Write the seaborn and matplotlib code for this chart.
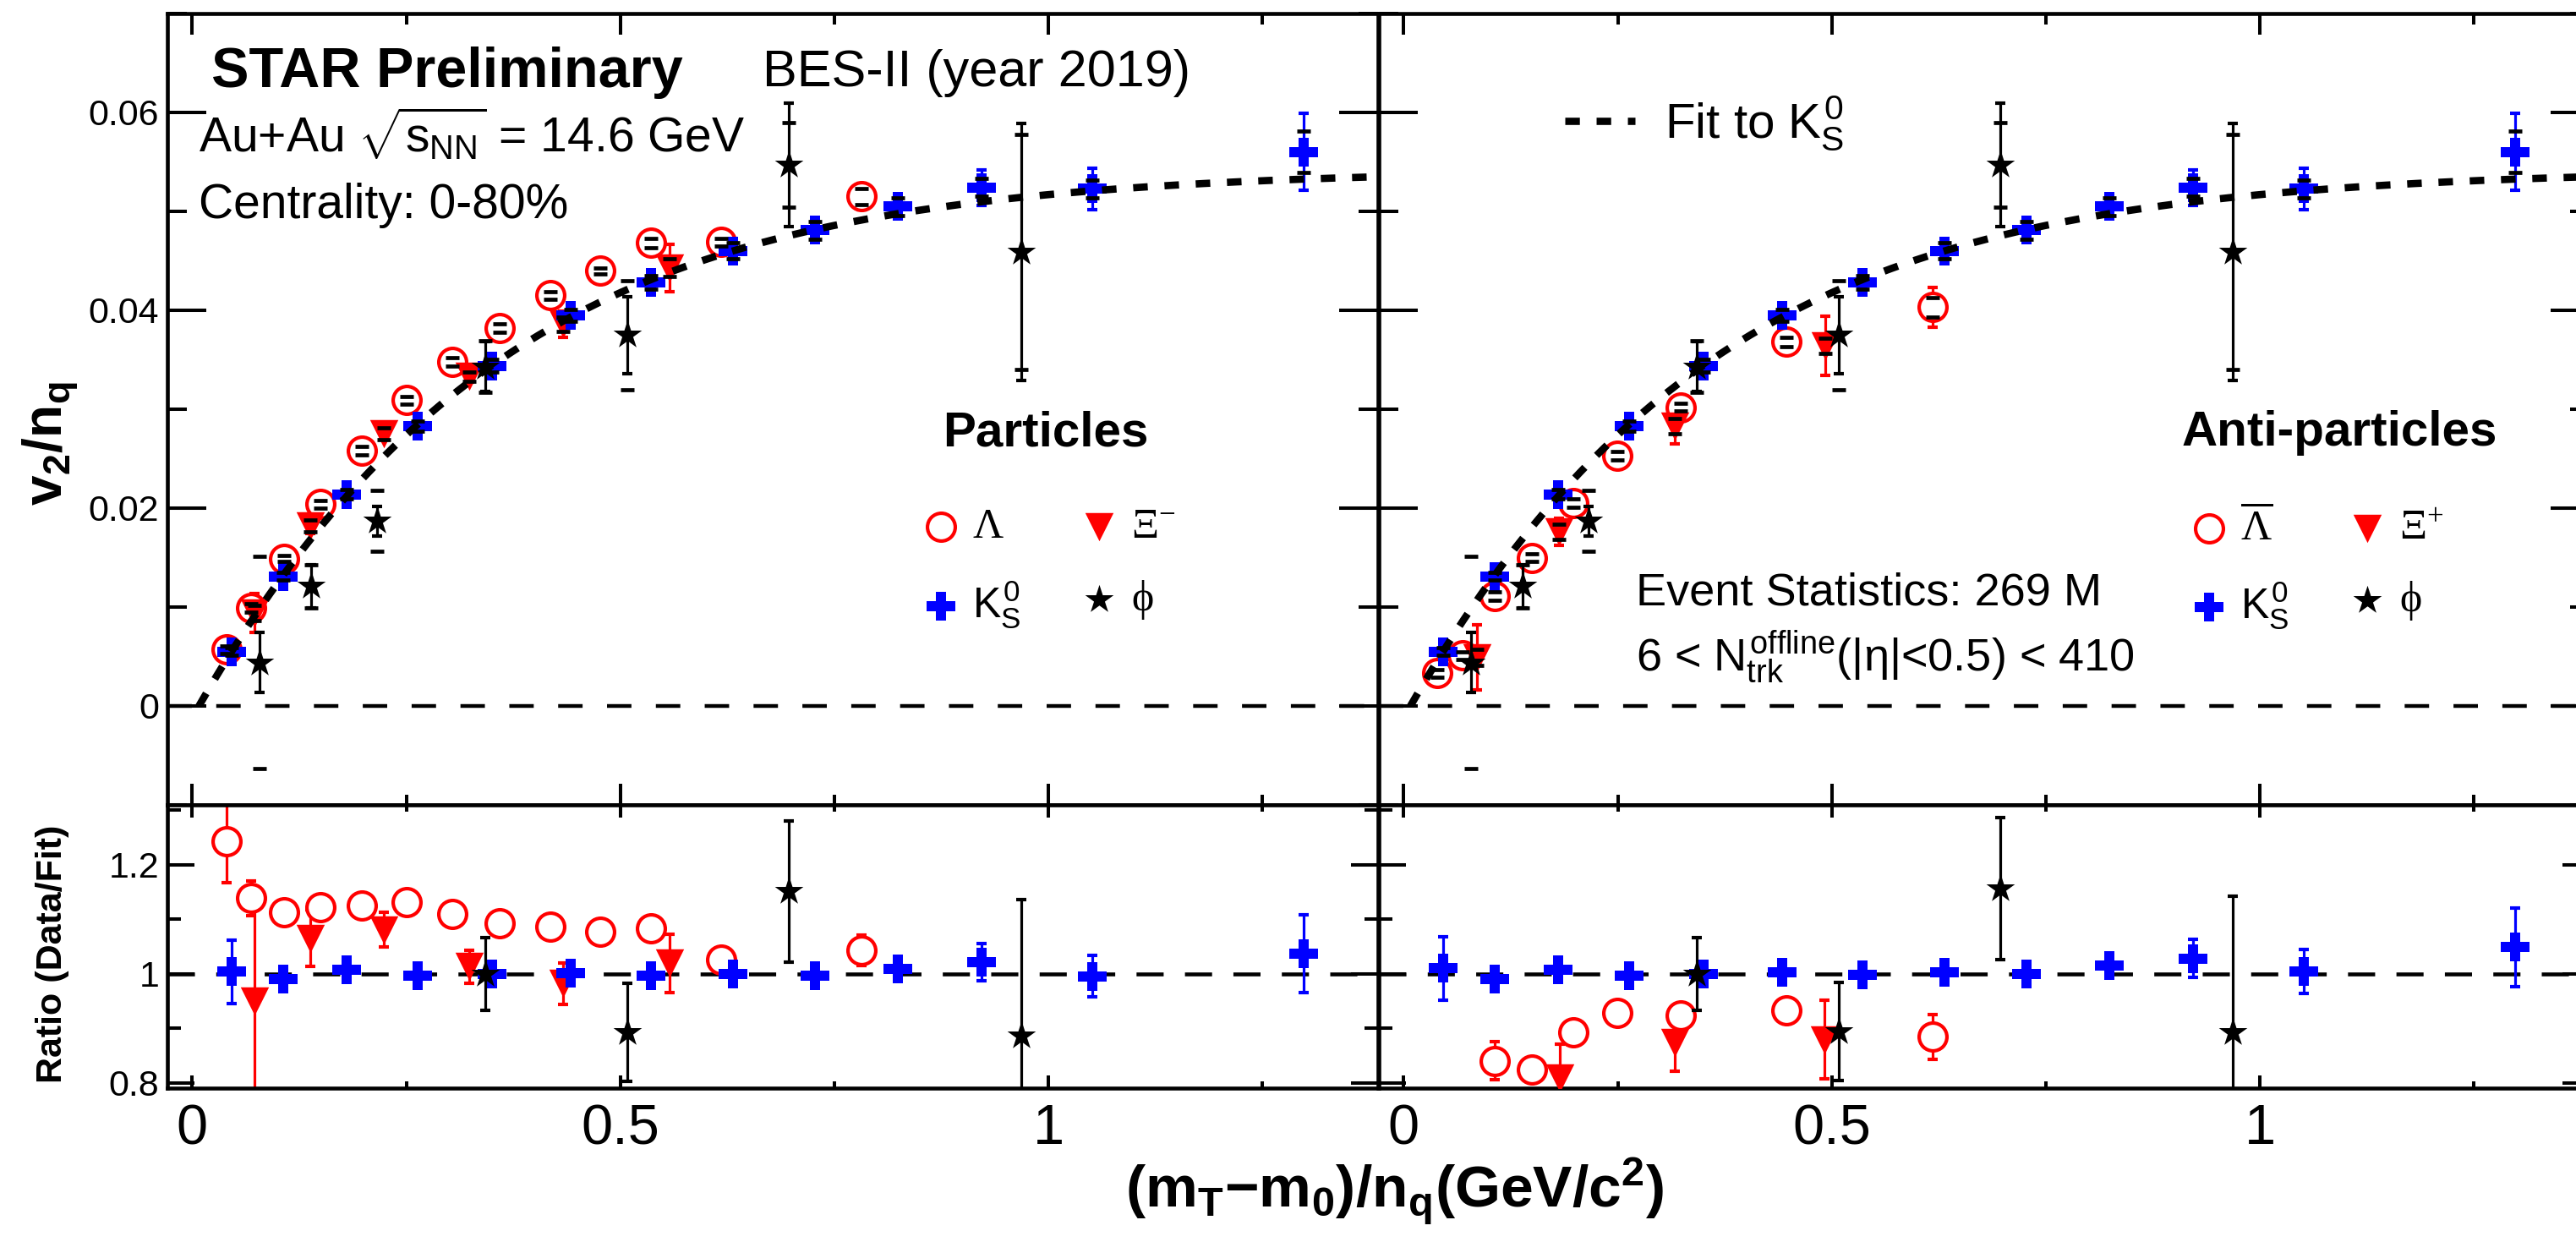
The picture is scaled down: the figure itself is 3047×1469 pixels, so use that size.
import numpy as np
import pandas as pd
import seaborn as sns
import matplotlib.pyplot as plt
from matplotlib.lines import Line2D
from matplotlib.ticker import MultipleLocator, FuncFormatter

# ---- values ----
# K0S (same points in both panels)
k0s_x = [0.046, 0.106, 0.180, 0.263, 0.350, 0.442, 0.536, 0.632, 0.727, 0.824, 0.922, 1.051, 1.298]
k0s_y = [0.0055, 0.0131, 0.0214, 0.0283, 0.0344, 0.0395, 0.0428, 0.0460, 0.0481, 0.0505, 0.0524, 0.0523, 0.0560]
k0s_err = [0.0003, 0.0003, 0.0003, 0.0003, 0.0003, 0.0004, 0.0004, 0.0004, 0.0005, 0.0012, 0.0018, 0.0021, 0.0039]
k0s_sys = [0.0004, 0.0004, 0.0005, 0.0005, 0.0006, 0.0006, 0.0007, 0.0008, 0.0009, 0.0009, 0.0009, 0.0009, 0.0021]

# phi (same points in both panels)
phi_x = [0.079, 0.139, 0.216, 0.342, 0.508, 0.697, 0.968]
phi_y = [0.0044, 0.0121, 0.0187, 0.0343, 0.0375, 0.0547, 0.0459]
phi_err = [0.0030, 0.0022, 0.0015, 0.0025, 0.0039, 0.0062, 0.0130]
phi_sys = [0.0107, 0.0022, 0.0031, 0.0026, 0.0055, 0.0043, 0.0119]

# Lambda
lam_x = [0.040, 0.069, 0.107, 0.150, 0.198, 0.250, 0.304, 0.359, 0.418, 0.477, 0.536, 0.618, 0.782]
lam_y = [0.0057, 0.0099, 0.0149, 0.0204, 0.0258, 0.0309, 0.0348, 0.0382, 0.0415, 0.0440, 0.0468, 0.0469, 0.0515]
lam_err = [0.0004, 0.0005, 0.0004, 0.0004, 0.0004, 0.0004, 0.0004, 0.0004, 0.0004, 0.0004, 0.0005, 0.0006, 0.0013]
lam_sys = [0.0004, 0.0004, 0.0003, 0.0004, 0.0004, 0.0004, 0.0004, 0.0004, 0.0004, 0.0003, 0.0005, 0.0004, 0.0008]

# Xi-
xi_x = [0.073, 0.138, 0.224, 0.324, 0.433, 0.558]
xi_y = [0.0094, 0.0182, 0.0275, 0.0333, 0.0386, 0.0443]
xi_err = [0.0020, 0.0008, 0.0006, 0.0006, 0.0013, 0.0024]
xi_sys = [0.0008, 0.0006, 0.0006, 0.0005, 0.0007, 0.0009]

# anti-Lambda
alam_x = [0.039, 0.069, 0.106, 0.150, 0.198, 0.249, 0.324, 0.447, 0.618]
alam_y = [0.0033, 0.0051, 0.0111, 0.0150, 0.0205, 0.0253, 0.0302, 0.0368, 0.0403]
alam_err = [0.0004, 0.0004, 0.0004, 0.0004, 0.0004, 0.0004, 0.0005, 0.0006, 0.0020]
alam_sys = [0.0004, 0.0004, 0.0004, 0.0004, 0.0004, 0.0004, 0.0004, 0.0005, 0.0010]

# anti-Xi (Xi+)
axi_x = [0.086, 0.181, 0.317, 0.492]
axi_y = [0.0049, 0.0176, 0.0283, 0.0364]
axi_err = [0.0033, 0.0014, 0.0018, 0.0030]
axi_sys = [0.0008, 0.0008, 0.0008, 0.0008]

# ratios Data/Fit, left panel (particles)
lam_ratio = [1.243, 1.139, 1.113, 1.122, 1.126, 1.131, 1.110, 1.093, 1.087, 1.077, 1.083, 1.026, 1.043]
lam_ratio_err = [0.076, 0.032, 0.012, 0.010, 0.010, 0.010, 0.010, 0.010, 0.010, 0.010, 0.012, 0.015, 0.028]
xi_ratio = [0.950, 1.065, 1.081, 1.013, 0.982, 1.019]
xi_ratio_err = [0.190, 0.052, 0.032, 0.030, 0.038, 0.053]
k0s_ratio_l = [1.004, 0.990, 1.007, 0.996, 0.999, 1.001, 0.996, 1.000, 0.996, 1.009, 1.021, 0.995, 1.037]
k0s_ratio_err_l = [0.058, 0.020, 0.020, 0.020, 0.020, 0.020, 0.020, 0.020, 0.020, 0.020, 0.034, 0.038, 0.071]
phi_ratio_x = [0.342, 0.508, 0.697, 0.968]
phi_ratio_l = [1.000, 0.892, 1.151, 0.887]
phi_ratio_err_l = [0.067, 0.090, 0.129, 0.249]

# ratios Data/Fit, right panel (anti-particles)
alam_ratio_x = [0.106, 0.150, 0.198, 0.249, 0.324, 0.447, 0.618]
alam_ratio = [0.840, 0.824, 0.893, 0.928, 0.923, 0.933, 0.884]
alam_ratio_err = [0.035, 0.020, 0.015, 0.015, 0.015, 0.015, 0.041]
axi_ratio_x = [0.182, 0.317, 0.491]
axi_ratio = [0.808, 0.874, 0.879]
axi_ratio_err = [0.063, 0.053, 0.072]
k0s_ratio_r = [1.010, 0.990, 1.007, 0.996, 0.999, 1.002, 0.998, 1.003, 1.000, 1.015, 1.028, 1.004, 1.049]
k0s_ratio_err_r = [0.058, 0.020, 0.020, 0.020, 0.020, 0.020, 0.020, 0.020, 0.020, 0.020, 0.035, 0.040, 0.072]
phi_ratio_r = [1.000, 0.894, 1.156, 0.892]
phi_ratio_err_r = [0.067, 0.090, 0.130, 0.250]

W, H = 3047, 1469
X_RANGE = (-0.029, 1.385)

# marker styles (ROOT-like)
STYLE = {
    'lam': dict(marker='o', s=560, facecolor='white', edgecolor='red', linewidth=3.0, zorder=3),
    'xi': dict(marker='v', s=580, color='red', edgecolor='red', linewidth=0, zorder=3.5),
    'k0s': dict(marker='P', s=600, color='blue', edgecolor='blue', linewidth=0, zorder=4),
    'phi': dict(marker='*', s=650, color='black', edgecolor='black', linewidth=0, zorder=4.5),
}
ERR_COLOR = {'lam': 'red', 'xi': 'red', 'k0s': 'blue', 'phi': 'black'}
ERR_Z = {'lam': 2, 'xi': 2.1, 'k0s': 2.2, 'phi': 4.4}


def fx(px):
    return px / W


def fy(py):
    return 1 - py / H


def fit_k0s(x, y, err):
    """Fit a/(1+exp(-(x-b)/c)) - d to the K0S points (grid in b, c; linear in a, d)."""
    x = np.asarray(x)
    y = np.asarray(y)
    w = 1.0 / np.asarray(err)
    best = None
    for b in np.linspace(-0.6, 0.4, 101):
        for c in np.linspace(0.05, 0.6, 56):
            lg = 1.0 / (1.0 + np.exp(-(x - b) / c))
            A = np.column_stack([lg, -np.ones_like(lg)]) * w[:, None]
            coef, *_ = np.linalg.lstsq(A, y * w, rcond=None)
            chi2 = np.sum((A @ coef - y * w) ** 2)
            if best is None or chi2 < best[0]:
                best = (chi2, coef[0], b, c, coef[1])
    return best[1:]


def draw_species(ax, key, x, y, err, sys_err=None):
    """Stat error bars, markers and (optional) systematic brackets."""
    ax.errorbar(x, y, yerr=err, fmt='none', ecolor=ERR_COLOR[key], elinewidth=2.3,
                capsize=4, capthick=3, zorder=ERR_Z[key])
    df = pd.DataFrame({'x': x, 'y': y})
    sns.scatterplot(data=df, x='x', y='y', ax=ax, legend=False, **STYLE[key])
    handle = ax.collections[-1]
    if sys_err is not None:
        ax.errorbar(x, y, yerr=sys_err, fmt='none', ecolor='black', elinewidth=0,
                    capsize=5.5, capthick=3.4, zorder=5)
    return handle


def style_axes(ax, upper):
    ax.set_xlim(*X_RANGE)
    ax.xaxis.set_major_locator(MultipleLocator(0.5))
    ax.xaxis.set_minor_locator(MultipleLocator(0.25))
    if upper:
        ax.set_ylim(-0.01, 0.07)
        ax.yaxis.set_major_locator(MultipleLocator(0.02))
        ax.yaxis.set_minor_locator(MultipleLocator(0.01))
        xl, yl = (18, 9), (33, 16.5)
    else:
        ax.set_ylim(0.79, 1.31)
        ax.yaxis.set_major_locator(MultipleLocator(0.2))
        ax.yaxis.set_minor_locator(MultipleLocator(0.1))
        xl, yl = (11, 5.5), (23, 11.5)
    fmt = FuncFormatter(lambda v, p: f'{v:g}')
    ax.xaxis.set_major_formatter(fmt)
    ax.yaxis.set_major_formatter(fmt)
    ax.tick_params(which='both', direction='in', top=True, right=True, width=2.9, color='black')
    ax.tick_params(axis='x', which='major', length=xl[0], labelsize=48, pad=13)
    ax.tick_params(axis='x', which='minor', length=xl[1])
    ax.tick_params(axis='y', which='major', length=yl[0], labelsize=31, pad=7)
    ax.tick_params(axis='y', which='minor', length=yl[1])
    for sp in ax.spines.values():
        sp.set_linewidth(3.3)
        sp.set_color('black')
    ax.set_xlabel('')
    ax.set_ylabel('')


sns.set_theme(style='ticks')
plt.rcParams['font.family'] = ['Liberation Sans', 'DejaVu Sans']
plt.rcParams['mathtext.fontset'] = 'custom'
plt.rcParams['mathtext.rm'] = 'Liberation Sans'
plt.rcParams['mathtext.it'] = 'Liberation Sans'
plt.rcParams['mathtext.bf'] = 'Liberation Sans:bold'
plt.rcParams['mathtext.sf'] = 'Liberation Serif'
plt.rcParams['text.color'] = 'black'
plt.rcParams['xtick.color'] = 'black'
plt.rcParams['ytick.color'] = 'black'

fig = plt.figure(figsize=(W / 100, H / 100), dpi=100)
fig.patch.set_facecolor('white')
ax_tl = fig.add_axes([fx(198), fy(952), 1432 / W, 936 / H])
ax_bl = fig.add_axes([fx(198), fy(1287), 1432 / W, 335 / H])
ax_tr = fig.add_axes([fx(1631), fy(952), 1432 / W, 936 / H])
ax_br = fig.add_axes([fx(1631), fy(1287), 1432 / W, 335 / H])

# fit to K0S, drawn in both upper panels
fa, fb, fc, fd = fit_k0s(k0s_x, k0s_y, k0s_err)
x_start = fb - fc * np.log(fa / fd - 1) if fa > fd > 0 else 0.0
xf = np.linspace(max(x_start, 0.0), X_RANGE[1], 400)
yf = fa / (1 + np.exp(-(xf - fb) / fc)) - fd

handles = {}
for ax, lam_set, xi_set in [
        (ax_tl, (lam_x, lam_y, lam_err, lam_sys), (xi_x, xi_y, xi_err, xi_sys)),
        (ax_tr, (alam_x, alam_y, alam_err, alam_sys), (axi_x, axi_y, axi_err, axi_sys))]:
    ax.axhline(0, color='black', lw=3.2, dashes=(6.5, 6.5), zorder=1)
    h_lam = draw_species(ax, 'lam', *lam_set)
    h_xi = draw_species(ax, 'xi', *xi_set)
    h_k0s = draw_species(ax, 'k0s', k0s_x, k0s_y, k0s_err, k0s_sys)
    h_phi = draw_species(ax, 'phi', phi_x, phi_y, phi_err, phi_sys)
    ax.plot(xf, yf, color='black', lw=6.2, dashes=(2, 2.3), dash_capstyle='butt', zorder=6)
    handles[ax] = [h_lam, h_k0s, h_xi, h_phi]
    style_axes(ax, upper=True)

# ratio panels
for ax, lam_r, xi_r, k_r, phi_r in [
        (ax_bl, (lam_x, lam_ratio, lam_ratio_err), (xi_x, xi_ratio, xi_ratio_err),
         (k0s_ratio_l, k0s_ratio_err_l), (phi_ratio_l, phi_ratio_err_l)),
        (ax_br, (alam_ratio_x, alam_ratio, alam_ratio_err), (axi_ratio_x, axi_ratio, axi_ratio_err),
         (k0s_ratio_r, k0s_ratio_err_r), (phi_ratio_r, phi_ratio_err_r))]:
    ax.axhline(1, color='black', lw=3.3, dashes=(7, 5.5), zorder=1)
    draw_species(ax, 'lam', *lam_r)
    draw_species(ax, 'xi', *xi_r)
    draw_species(ax, 'k0s', k0s_x, *k_r)
    draw_species(ax, 'phi', phi_ratio_x, *phi_r)
    style_axes(ax, upper=False)

ax_tl.tick_params(labelbottom=False)
ax_tr.tick_params(labelbottom=False, labelleft=False)
ax_br.tick_params(labelleft=False)

# legends
leg_kw = dict(ncol=2, loc='center left', bbox_transform=fig.transFigure, frameon=False,
              fontsize=36, handlelength=1.0, handletextpad=0.25, columnspacing=1.35,
              labelspacing=0.75, borderpad=0, borderaxespad=0, scatterpoints=1)
ax_tl.legend(handles=handles[ax_tl],
             labels=[r'$\mathsf{\Lambda}$', r'$K_{S}^{0}$', r'$\mathsf{\Xi^{-}}$', r'$\mathsf{\phi}$'],
             bbox_to_anchor=(fx(1088), fy(673)), **leg_kw)

fit_handle = Line2D([], [], color='black', lw=6.2, dashes=(2, 2.3), dash_capstyle='butt')
fit_leg = ax_tr.legend(handles=[fit_handle], labels=[r'Fit to $K_{S}^{0}$'], loc='center left',
                       bbox_to_anchor=(fx(1851), fy(146)), bbox_transform=fig.transFigure,
                       frameon=False, fontsize=42, handlelength=1.43, handletextpad=0.6,
                       borderpad=0, borderaxespad=0)
ax_tr.add_artist(fit_leg)
ax_tr.legend(handles=handles[ax_tr],
             labels=[r'$\mathsf{\overline{\Lambda}}$', r'$K_{S}^{0}$', r'$\mathsf{\Xi^{+}}$', r'$\mathsf{\phi}$'],
             bbox_to_anchor=(fx(2588), fy(673)), **leg_kw)

# text annotations
fig.text(fx(250), fy(103), 'STAR Preliminary', fontsize=48, fontweight='bold', va='baseline')
fig.text(fx(902), fy(102), 'BES-II (year 2019)', fontsize=44, va='baseline')
fig.text(fx(235), fy(180), r'Au+Au $\sqrt{s_{NN}}$ = 14.6 GeV', fontsize=41, va='baseline')
fig.text(fx(235), fy(258), 'Centrality: 0-80%', fontsize=41, va='baseline')
fig.text(fx(1237), fy(527), 'Particles', fontsize=42, fontweight='bold', ha='center', va='baseline')
fig.text(fx(2767), fy(527), 'Anti-particles', fontsize=42, fontweight='bold', ha='center', va='baseline')
fig.text(fx(1935), fy(715), 'Event Statistics: 269 M', fontsize=39, va='baseline')
fig.text(fx(1935), fy(793), r'6 < $N_{trk}^{offline}$(|η|<0.5) < 410', fontsize=39, va='baseline')

# axis titles
fig.text(fx(1650), fy(1428), r'$\mathbf{(m_{T}{-}m_{0})/n_{q}(GeV/c^{2})}$', fontsize=50,
         ha='center', va='baseline')
fig.text(fx(60), fy(525), r'$\mathbf{v_{2}/n_{q}}$', fontsize=46, rotation=90, ha='center', va='center')
fig.text(fx(62), fy(1128), 'Ratio (Data/Fit)', fontsize=31, fontweight='bold', rotation=90,
         ha='center', va='center')

fig.savefig('out.png', dpi=100, facecolor='white')
